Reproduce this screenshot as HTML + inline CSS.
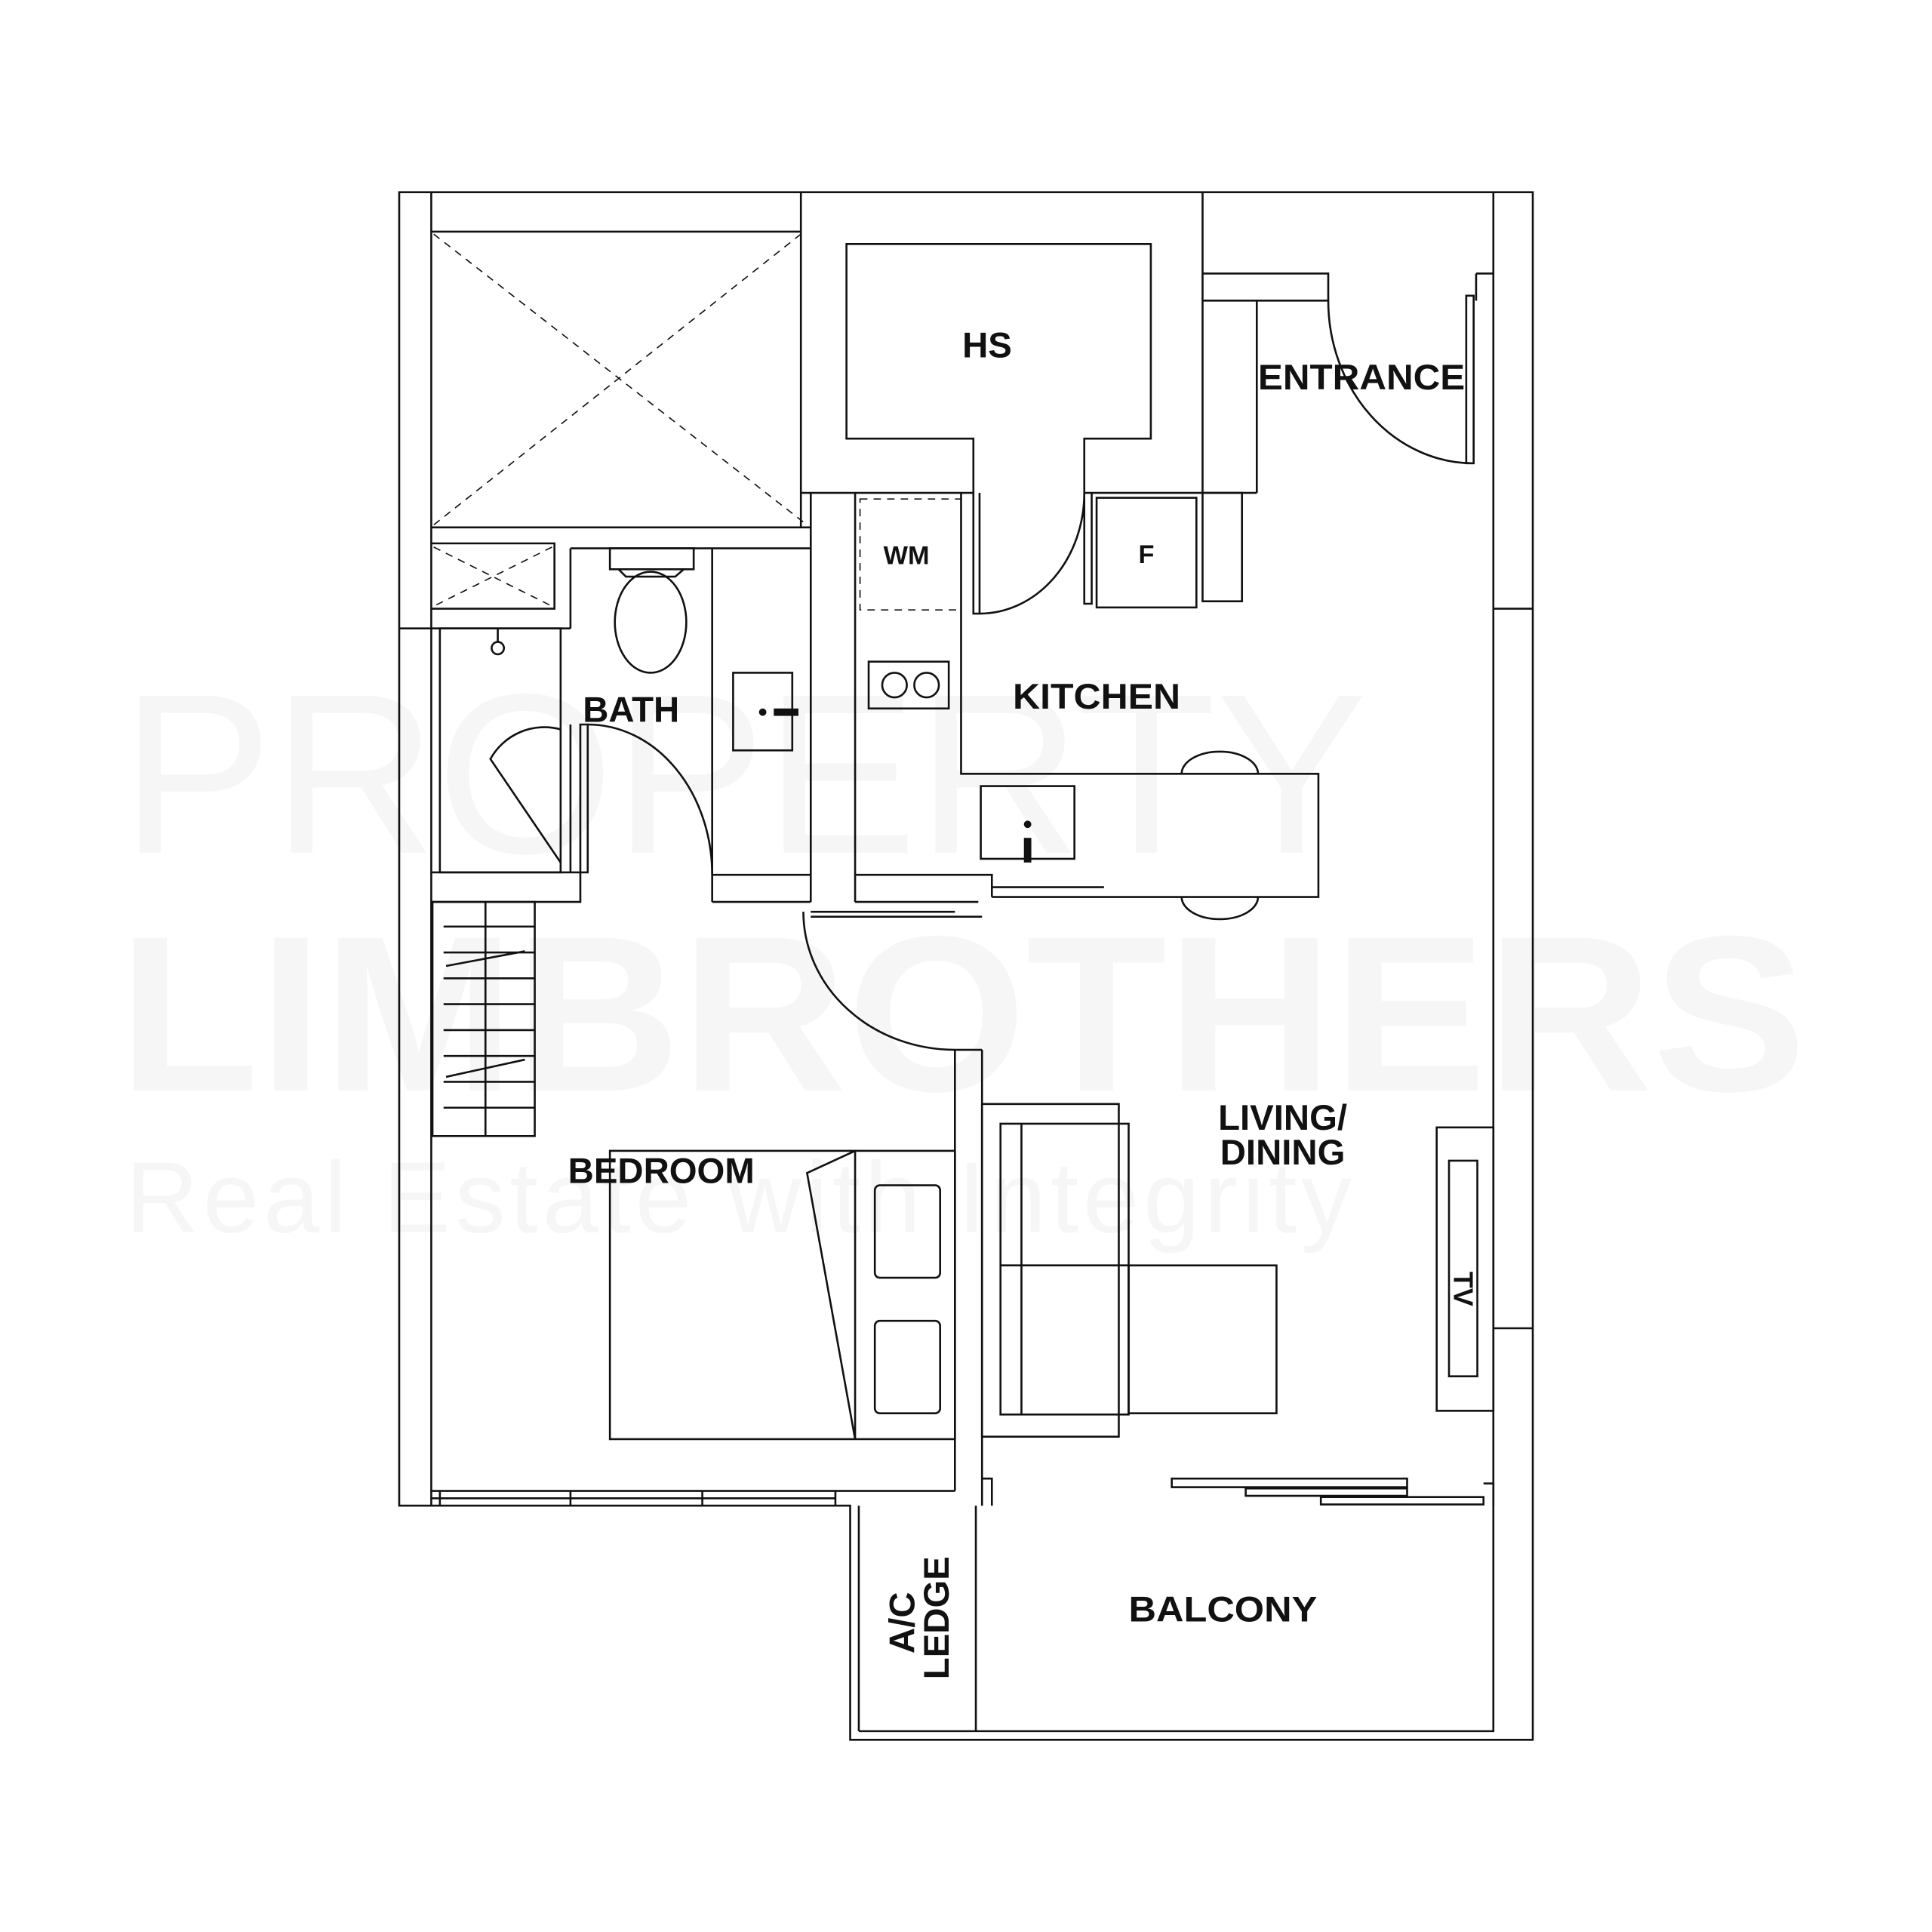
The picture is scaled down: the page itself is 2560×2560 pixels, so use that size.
<!DOCTYPE html>
<html><head><meta charset="utf-8"><style>html,body{margin:0;padding:0;background:#fff}svg{display:block}</style></head>
<body>
<svg width="2560" height="2560" viewBox="0 0 1568 1568" xmlns="http://www.w3.org/2000/svg">
<rect width="1568" height="1568" fill="#fff"/>
<g font-family="Liberation Sans, sans-serif" fill="#f6f6f6">
<text x="98" y="692" font-size="185" textLength="1012" lengthAdjust="spacing">PROPERTY</text>
<text x="96" y="885" font-size="180" font-weight="bold" textLength="1370" lengthAdjust="spacingAndGlyphs">LIMBROTHERS</text>
<text x="102" y="1000" font-size="82" textLength="995" lengthAdjust="spacing">Real Estate with Integrity</text>
</g>
<g fill="none" stroke="#111" stroke-width="1.6">
<path d="M324 156 H1244 V1412 H690 V1222 H324 Z"/>
<path d="M350 156 V1222"/>
<path d="M1212 156 V1222 M1212 494 H1244 M1212 1078 H1244 M697 1405 H1212 V1222 M697 1222 V1405 M792 1222 V1405"/>
<path d="M350 188 H650 M650 156 V428 M350 428 H658 M463 445 H658 M463 445 V510 M324 510 H463"/>
<path d="M350 441 H450 V494 H350"/>
<g stroke-dasharray="6,5" stroke-width="1">
<path d="M352 190 L655 426 M650 190 L352 426 M352 444 L448 492 M448 444 L352 492"/>
<rect x="698" y="405" width="82" height="90"/>
</g>
<path d="M650 400 H790 V356 H687 V198 H934 V356 H880 V400 H1020"/>
<path d="M976 156 V400 M976 222 H1078 V244 H976 M1020 244 V400 M1198 222 H1212 M1198 222 V244"/>
<path d="M1190 240 V376 H1196 V240 Z"/>
<path d="M1078 244 A118 132 0 0 0 1196 376"/>
<path d="M658 400 V732 M694 400 V732 M780 400 V628 H1070 V728 H805 M790 400 V498 H795 V400"/>
<path d="M795 498 A85 98 0 0 0 880 400 M880 400 V490 H886 V400"/>
<rect x="890" y="404" width="81" height="89"/>
<rect x="976" y="400" width="32" height="88"/>
<rect x="705" y="537" width="65" height="38"/>
<circle cx="726" cy="556" r="10"/><circle cx="752" cy="556" r="10"/>
<rect x="796" y="638" width="76" height="59"/>
<path d="M959 628 A31 18 0 0 1 1021 628 M959 728 A31 18 0 0 0 1021 728"/>
<rect x="495" y="445" width="68" height="17"/>
<path d="M502 462 L508 468 H548 L555 462"/>
<ellipse cx="528" cy="505" rx="29" ry="41"/>
<path d="M578 445 V710 M578 710 H658 M578 732 H658 M578 710 V732"/>
<rect x="595" y="546" width="48" height="63"/>
<rect x="357" y="510" width="98" height="198"/>
<path d="M350 708 H471 M463 708 V588 M455 700 L398 616 A50 50 0 0 1 455 592"/>
<circle cx="404" cy="526" r="5"/><path d="M404 510 V521"/>
<path d="M471 588 V708 H477 V588 Z"/>
<path d="M477 588 A101 122 0 0 1 578 710"/>
<path d="M350 732 H471 V708 M694 710 H805 V720 M694 732 H794 M805 720 H896"/>
<path d="M658 740 H775 M658 744 H797 M805 728 V720"/>
<rect x="351" y="732" width="83" height="190"/>
<path d="M394 732 V922 M360 752 H434 M360 773 H434 M360 794 H434 M360 815 H434 M360 836 H434 M360 857 H434 M360 878 H434 M360 899 H434 M362 784 L426 772 M362 874 L426 860"/>
<path d="M652 740 A123 112 0 0 0 775 852 M775 852 H797 M775 852 V1210 M797 852 V1222"/>
<rect x="495" y="934" width="280" height="234"/>
<path d="M694 934 V1168 M694 934 L655 952 L694 1168"/>
<rect x="710" y="962" width="53" height="75" rx="4"/>
<rect x="710" y="1072" width="53" height="75" rx="4"/>
<path d="M350 1210 H775 M357 1210 V1222 M463 1210 V1222 M570 1210 V1222 M678 1210 V1222 M350 1216 H678 M797 1200 H805 V1222"/>
<rect x="797" y="896" width="111" height="270"/>
<rect x="812" y="912" width="104" height="236"/>
<path d="M812 1027 H916 M829 912 V1148"/>
<rect x="916" y="1027" width="120" height="120"/>
<rect x="1166" y="915" width="46" height="230"/>
<rect x="1176" y="942" width="23" height="175"/>
<rect x="951" y="1200" width="191" height="7"/>
<rect x="1011" y="1208" width="131" height="6"/>
<rect x="1072" y="1215" width="132" height="6"/>
<path d="M1204 1204 H1212 V1222"/>
</g>
<g fill="#111">
<circle cx="619" cy="578" r="3"/><rect x="628" y="575" width="20" height="6"/>
<circle cx="834" cy="669" r="3"/><rect x="831" y="680" width="6" height="20"/>
</g>
<g font-family="Liberation Sans, sans-serif" font-weight="bold" fill="#111" font-size="29">
<text x="781" y="290">HS</text>
<text x="1021" y="316" textLength="168" lengthAdjust="spacingAndGlyphs">ENTRANCE</text>
<text x="717" y="458" font-size="21">WM</text>
<text x="924" y="457" font-size="21">F</text>
<text x="822" y="575" textLength="136" lengthAdjust="spacingAndGlyphs">KITCHEN</text>
<text x="473" y="586">BATH</text>
<text x="461" y="960">BEDROOM</text>
<text x="1041" y="917" text-anchor="middle">LIVING/</text>
<text x="1041" y="945" text-anchor="middle">DINING</text>
<text x="916" y="1316" textLength="153" lengthAdjust="spacingAndGlyphs">BALCONY</text>
<text transform="translate(1180,1032) rotate(90)" font-size="22">TV</text>
<text transform="translate(742,1317) rotate(-90)" text-anchor="middle">A/C</text>
<text transform="translate(770,1313) rotate(-90)" text-anchor="middle">LEDGE</text>
</g>
</svg>
</body></html>
